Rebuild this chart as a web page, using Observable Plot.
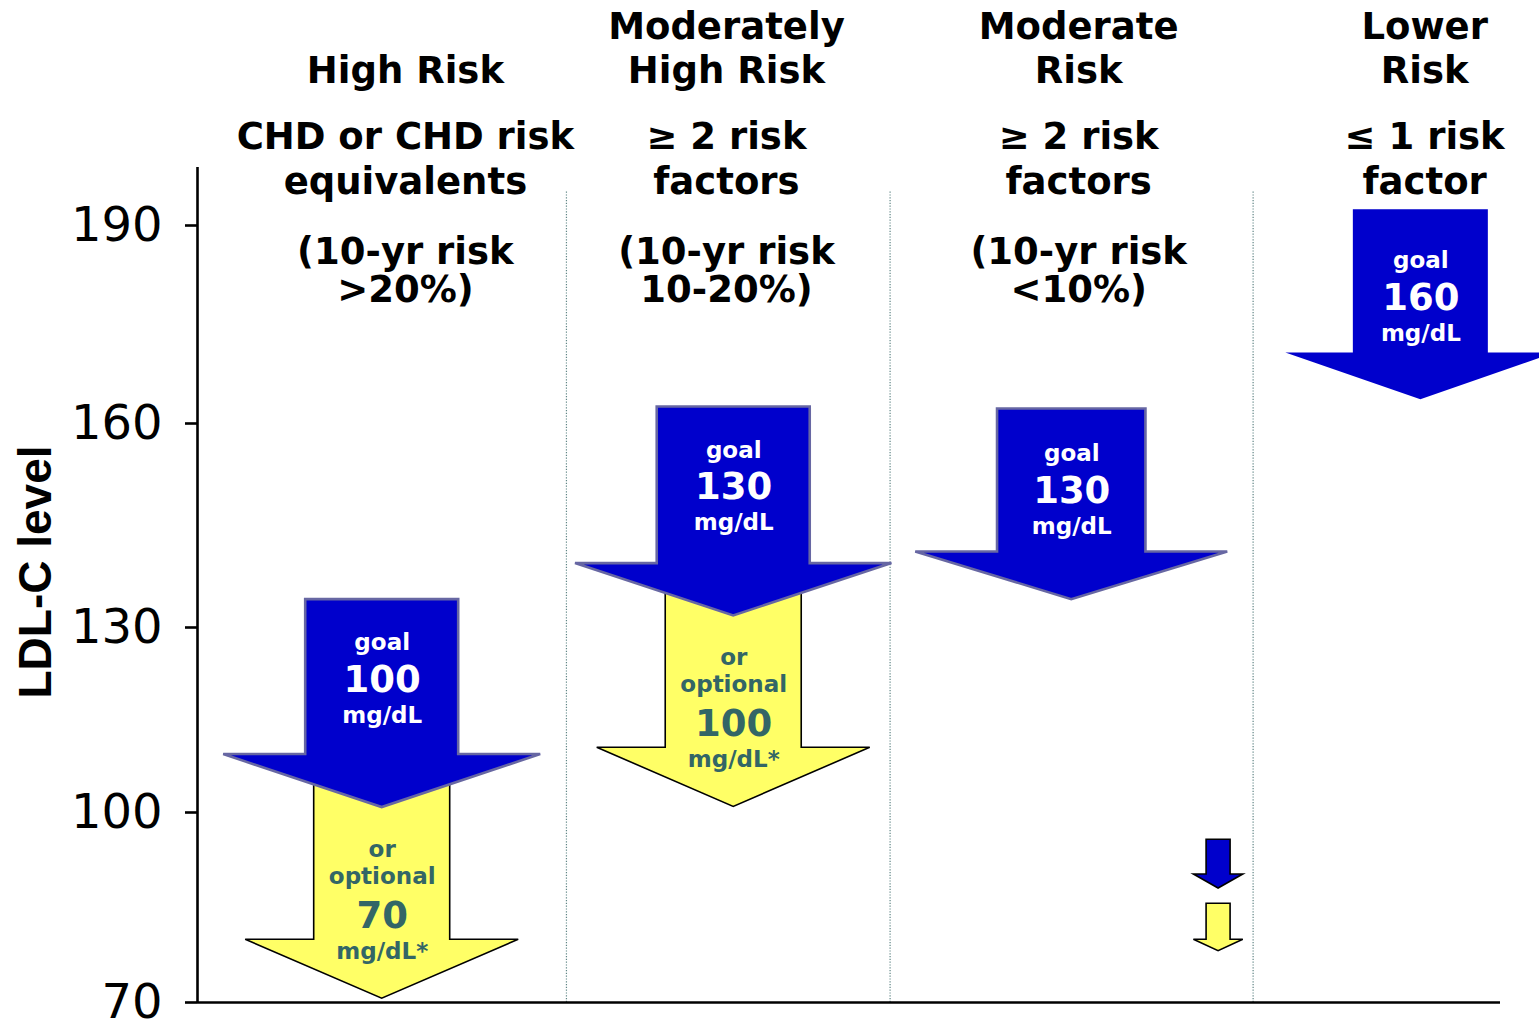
<!DOCTYPE html>
<html>
<head>
<meta charset="utf-8">
<script src="https://cdn.jsdelivr.net/npm/d3@7"></script>
<script src="https://cdn.jsdelivr.net/npm/@observablehq/plot@0.6"></script>
<style>
  html, body { margin: 0; padding: 0; background: #fff; }
  #chart svg [aria-label="y-axis tick"] { stroke-width: 2.6px; }
</style>
</head>
<body>
<div id="chart"></div>
<script>
// ---------------- data ----------------
const categories = ["High Risk", "Moderately\nHigh Risk", "Moderate\nRisk", "Lower\nRisk"];
const criteria = ["CHD or CHD risk\nequivalents", "≥ 2 risk\nfactors", "≥ 2 risk\nfactors", "≤ 1 risk\nfactor"];
const riskRanges = ["(10-yr risk\n>20%)", "(10-yr risk\n10-20%)", "(10-yr risk\n<10%)", ""];
const headerX = [1.067, 1.994, 3.011, 4.010];

const yTicks = [70, 100, 130, 160, 190];

// goal arrows (LDL-C levels where each arrow starts, where its head begins, where its tip lands)
const goalValues   = [100, 130, 130, 160];
const goalX        = [1.000, 2.015, 2.991, 3.999];
const goalFrom     = [134.1, 162.5, 162.2, 192.4];
const goalShoulder = [109.4, 139.4, 141.1, 170.7];
const goalTip      = [100.8, 131.7, 134.1, 163.6];

// optional goal arrows
const optValues   = [70, 100];
const optX        = [1.000, 2.015];
const optShoulder = [79.9, 110.5];
const optTip      = [70.6, 100.9];

// small key arrows
const keyX        = 3.415;
const keyBlue     = {from: 95.7, shoulder: 90.2, tip: 88.0};
const keyYellow   = {from: 85.6, shoulder: 79.9, tip: 78.1};

const dividers = [1.532, 2.4665, 3.5147];
const axisTop = 198.8;
const dividerTop = 195.2;

// ---------------- layout / style ----------------
const xDomain = [0.4667, 4.229];
const blue = "#0000CC", blueEdge = "#6767A3", yellow = "#FFFF66", slate = "#336666";
const goalShaft = [76.5, 76.5, 74.2, 67.5];
const goalWing  = [158.5, 158.2, 156, 135];
const goalLabelShift = [0, 0, 2, 8];
const bold = "DejaVu Sans";
const headSize = 37;

const goalRows = goalValues.map((v, i) => ({
  value: v, x: goalX[i], from: goalFrom[i], shoulder: goalShoulder[i], tip: goalTip[i],
  shaft: goalShaft[i], wing: goalWing[i], shift: goalLabelShift[i]
}));
const optRows = optValues.map((v, i) => ({
  value: v, x: optX[i], from: goalShoulder[i] + 3, shoulder: optShoulder[i], tip: optTip[i],
  shaft: 68, wing: 136.5
}));
const keyBlueRows = [{x: keyX, ...keyBlue, shaft: 12, wing: 24.7}];
const keyYellowRows = [{x: keyX, ...keyYellow, shaft: 12, wing: 24.7}];

function arrows(rows, style) {
  return (index, scales) => {
    const g = d3.create("svg:g");
    for (const r of rows) {
      const cx = scales.x(r.x), top = scales.y(r.from), sh = scales.y(r.shoulder), tip = scales.y(r.tip);
      const s = r.shaft, w = r.wing;
      const pts = [[cx - s, top], [cx + s, top], [cx + s, sh], [cx + w, sh], [cx, tip], [cx - w, sh], [cx - s, sh]];
      g.append("path")
        .attr("d", "M" + pts.map(p => p.join(",")).join("L") + "Z")
        .attr("fill", style.fill)
        .attr("stroke", style.stroke || "none")
        .attr("stroke-width", style.strokeWidth || 0)
        .attr("stroke-linejoin", "miter");
    }
    return g.node();
  };
}

const chart = Plot.plot({
  width: 1539,
  height: 1021,
  marginLeft: 197,
  marginRight: 39,
  marginTop: 0,
  marginBottom: 19,
  style: {fontFamily: "DejaVu Sans", fontSize: "48px", color: "#000", background: "#fff"},
  x: {type: "linear", domain: xDomain, axis: null},
  y: {type: "linear", domain: yTicks, range: [1002, 812, 627, 423, 225], ticks: yTicks, tickSize: 12, tickPadding: 23, label: null, tickFormat: d => String(d)},
  marks: [
    Plot.ruleX(dividers, {y1: 70, y2: dividerTop, stroke: "#5f8585", strokeWidth: 1.2, strokeDasharray: "1.2,1.6"}),
    Plot.ruleX([xDomain[0]], {y1: 70, y2: axisTop, stroke: "#000", strokeWidth: 2.6}),
    Plot.ruleY([70], {stroke: "#000", strokeWidth: 2.6}),

    // headers
    Plot.text(categories, {x: headerX, frameAnchor: "top", dy: 82.7, lineAnchor: "bottom", lineHeight: 1.197,
      fontSize: headSize, fontWeight: "bold", fontFamily: bold, fill: "#000"}),
    Plot.text(criteria, {x: headerX, frameAnchor: "top", dy: 193.3, lineAnchor: "bottom", lineHeight: 1.216,
      fontSize: headSize, fontWeight: "bold", fontFamily: bold, fill: "#000"}),
    Plot.text(riskRanges, {x: headerX, frameAnchor: "top", dy: 301.7, lineAnchor: "bottom", lineHeight: 1.035,
      fontSize: headSize, fontWeight: "bold", fontFamily: bold, fill: "#000", filter: d => d !== ""}),

    // axis title
    Plot.text(["LDL-C level"], {frameAnchor: "left", textAnchor: "middle", dx: -161, dy: 70.5, rotate: -90,
      fontSize: 46, fontWeight: "bold", fontFamily: "Liberation Sans", fill: "#000", letterSpacing: "1.5px"}),

    // arrows
    arrows(optRows, {fill: yellow, stroke: "#000", strokeWidth: 1.6}),
    arrows(goalRows.slice(0, 3), {fill: blue, stroke: blueEdge, strokeWidth: 2.6}),
    arrows(goalRows.slice(3), {fill: blue}),
    arrows(keyBlueRows, {fill: blue, stroke: "#000", strokeWidth: 1.6}),
    arrows(keyYellowRows, {fill: yellow, stroke: "#000", strokeWidth: 1.6}),

    // goal labels
    ...goalRows.map(r => Plot.text([r], {x: "x", y: "from", text: () => "goal", lineAnchor: "bottom",
      fill: "#fff", fontSize: 23, fontWeight: "bold", fontFamily: bold, dy: 50.5 + r.shift})),
    ...goalRows.map(r => Plot.text([r], {x: "x", y: "from", text: d => String(d.value), lineAnchor: "bottom",
      fill: "#fff", fontSize: 37, fontWeight: "bold", fontFamily: bold, dy: 92 + r.shift})),
    ...goalRows.map(r => Plot.text([r], {x: "x", y: "from", text: () => "mg/dL", lineAnchor: "bottom",
      fill: "#fff", fontSize: 23, fontWeight: "bold", fontFamily: bold, dy: 123 + r.shift, letterSpacing: "1.5px"})),

    // optional labels
    Plot.text(optRows, {x: "x", y: "shoulder", text: () => "or", lineAnchor: "bottom",
      fill: slate, fontSize: 23, fontWeight: "bold", fontFamily: bold, dy: -82.5}),
    Plot.text(optRows, {x: "x", y: "shoulder", text: () => "optional", lineAnchor: "bottom",
      fill: slate, fontSize: 23, fontWeight: "bold", fontFamily: bold, dy: -55.5}),
    Plot.text(optRows, {x: "x", y: "shoulder", text: d => String(d.value), lineAnchor: "bottom",
      fill: slate, fontSize: 37, fontWeight: "bold", fontFamily: bold, dy: -12}),
    Plot.text(optRows, {x: "x", y: "shoulder", text: () => "mg/dL*", lineAnchor: "bottom",
      fill: slate, fontSize: 23, fontWeight: "bold", fontFamily: bold, dy: 19, letterSpacing: "1.5px"})
  ]
});
document.getElementById("chart").appendChild(chart);
</script>
</body>
</html>
